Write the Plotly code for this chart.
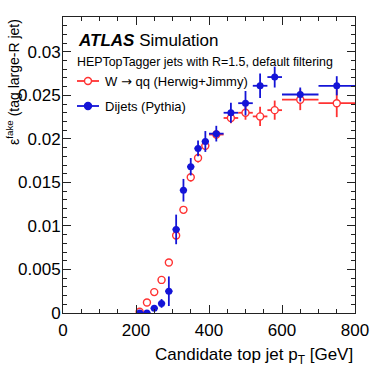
import plotly.graph_objects as go

# candidate top jet pT bins (GeV)
pt_centers = [210, 230, 250, 270, 290, 310, 330, 350, 370, 390, 420, 460, 500, 540, 580, 650, 750]
pt_halfwidth = [10, 10, 10, 10, 10, 10, 10, 10, 10, 10, 20, 20, 20, 20, 20, 50, 50]

# W -> qq (Herwig+Jimmy)
w_eff = [0.00015, 0.0012, 0.0024, 0.0038, 0.0058, 0.0089, 0.01185, 0.0156, 0.0178, 0.0192,
         0.0205, 0.0224, 0.0230, 0.02258, 0.0233, 0.0245, 0.0241]
w_err = [0.0001, 0.0002, 0.0002, 0.0003, 0.0003, 0.0004, 0.0004, 0.0005, 0.0005, 0.0005,
         0.0005, 0.0006, 0.0008, 0.0011, 0.0011, 0.0012, 0.0016]

# Dijets (Pythia)
dijet_eff = [0.0, 0.0, 0.00054, 0.0011, 0.0025, 0.0096, 0.0141, 0.0168, 0.0189, 0.0197,
             0.0206, 0.0230, 0.0241, 0.0261, 0.0271, 0.0251, 0.0261]
dijet_err = [0.0001, 0.0001, 0.0003, 0.0005, 0.0017, 0.0017, 0.0013, 0.0010, 0.0009, 0.0012,
             0.0009, 0.00115, 0.0014, 0.0014, 0.0012, 0.0008, 0.0011]

RED = "rgb(255,50,50)"
BLUE = "rgb(20,20,215)"
FONT = "Liberation Sans, Arial, sans-serif"

fig = go.Figure()

fig.add_trace(go.Scatter(
    x=pt_centers, y=w_eff, mode="markers", name="W → qq (Herwig+Jimmy)",
    error_x=dict(type="data", array=pt_halfwidth, color=RED, thickness=1.8, width=0),
    error_y=dict(type="data", array=w_err, color=RED, thickness=1.8, width=0),
    marker=dict(symbol="circle", size=7, color="white", line=dict(color=RED, width=1.4)),
    showlegend=False))

fig.add_trace(go.Scatter(
    x=pt_centers, y=dijet_eff, mode="markers", name="Dijets (Pythia)",
    error_x=dict(type="data", array=pt_halfwidth, color=BLUE, thickness=1.8, width=0),
    error_y=dict(type="data", array=dijet_err, color=BLUE, thickness=1.8, width=0),
    marker=dict(symbol="circle", size=7, color=BLUE, line=dict(width=0)),
    showlegend=False))

# plot area in pixels: x 63..355, y 17..313
L, R, T, B = 63, 355, 17, 313


def px(x):
    return (x - L) / (R - L)


def py(y):
    return (B - y) / (B - T)


axis_common = dict(
    showline=True, linecolor="#222", linewidth=1, mirror="ticks",
    ticks="inside", ticklen=8, tickcolor="#222", tickwidth=1,
    showgrid=False, zeroline=False, automargin=False,
    tickfont=dict(family=FONT, size=17, color="black"),
)

fig.update_xaxes(range=[0, 800], dtick=200, tick0=0,
                 minor=dict(dtick=50, ticks="inside", ticklen=4, tickcolor="#222"),
                 ticklabelstandoff=2, **axis_common)
fig.update_yaxes(range=[0, 0.034], dtick=0.005, tick0=0,
                 minor=dict(dtick=0.001, ticks="inside", ticklen=4, tickcolor="#222"),
                 ticklabelstandoff=-2, **axis_common)

annotations = [
    dict(text="<b><i>ATLAS</i></b> Simulation", x=px(76), y=py(40), xanchor="left", yanchor="middle",
         font=dict(family=FONT, size=17, color="black")),
    dict(text="HEPTopTagger jets with R=1.5, default filtering", x=px(75), y=py(62),
         xanchor="left", yanchor="middle", font=dict(family=FONT, size=12.4, color="black")),
    dict(text="W <span style='font-family:DejaVu Sans'>→</span> qq (Herwig+Jimmy)", x=px(103), y=py(81),
         xanchor="left", yanchor="middle", font=dict(family=FONT, size=13, color="black")),
    dict(text="Dijets (Pythia)", x=px(103), y=py(106), xanchor="left", yanchor="middle",
         font=dict(family=FONT, size=13, color="black")),
    dict(text="Candidate top jet p<sub>T</sub> [GeV]", x=1, y=py(356), xanchor="right", yanchor="middle",
         font=dict(family=FONT, size=17, color="black")),
    dict(text="ε<sup>fake</sup> (tag large-R jet)", x=px(2), y=1, xanchor="left", yanchor="top",
         textangle=-90, font=dict(family=FONT, size=14, color="black")),
]
for a in annotations:
    a.update(xref="paper", yref="paper", showarrow=False)

# hand-drawn legend symbols
shapes = []
for ly, col, filled in [(81, RED, False), (106, BLUE, True)]:
    shapes.append(dict(type="line", xref="paper", yref="paper", x0=px(77), x1=px(99), y0=py(ly), y1=py(ly),
                       line=dict(color=col, width=1.8)))
    shapes.append(dict(type="circle", xref="paper", yref="paper", xsizemode="pixel", ysizemode="pixel",
                       xanchor=px(88), yanchor=py(ly), x0=-3.5, x1=3.5, y0=-3.5, y1=3.5,
                       fillcolor=col if filled else "white", line=dict(color=col, width=1.4)))

fig.update_layout(
    width=374, height=374,
    margin=dict(l=L, r=374 - R, t=T, b=374 - B, autoexpand=False),
    paper_bgcolor="white", plot_bgcolor="white",
    annotations=annotations, shapes=shapes,
)

# drop the browser's default 8px body margin so the figure sits at the window corner
fig.write_html("out.html", config={"displayModeBar": False},
               post_script="document.body.style.margin='0';")
